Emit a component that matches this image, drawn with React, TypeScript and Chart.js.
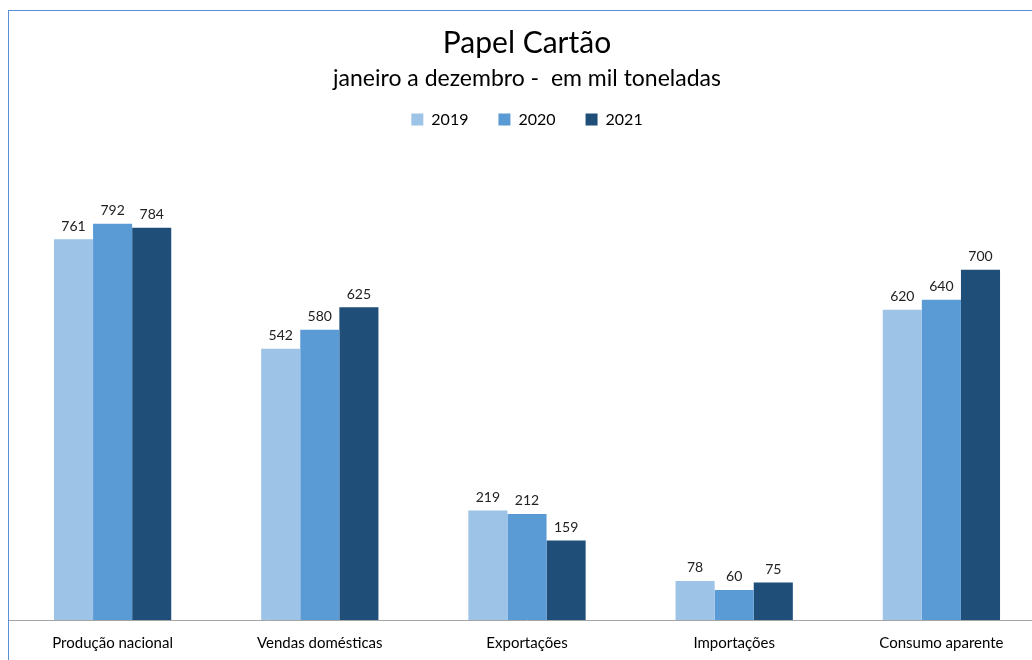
import React, { useEffect, useRef } from "react";
import { Chart, registerables } from "chart.js";

Chart.register(...registerables);

const categories = ["Produção nacional", "Vendas domésticas", "Exportações", "Importações", "Consumo aparente"];
const seriesNames = ["2019", "2020", "2021"];
const values2019 = [761, 542, 219, 78, 620];
const values2020 = [792, 580, 212, 60, 640];
const values2021 = [784, 625, 159, 75, 700];
const colors = ["#9DC3E6", "#5B9BD5", "#1F4E79"];

const FONT = "Lato, 'Open Sans', sans-serif";

const dataLabels = {
  id: "dataLabels",
  afterDatasetsDraw(chart: any) {
    const ctx = chart.ctx;
    ctx.save();
    ctx.font = `14px ${FONT}`;
    ctx.fillStyle = "#222222";
    ctx.textAlign = "center";
    ctx.textBaseline = "bottom";
    chart.data.datasets.forEach((ds: any, i: number) => {
      const meta = chart.getDatasetMeta(i);
      meta.data.forEach((el: any, j: number) => {
        ctx.fillText(String(ds.data[j]), el.x, el.y - 6);
      });
    });
    ctx.restore();
  },
};

const legendSpace = {
  id: "legendSpace",
  beforeInit(chart: any) {
    const legend = chart.legend;
    const origFit = legend.fit;
    legend.fit = function () {
      origFit.call(this);
      this.height += 21;
    };
    const origDraw = legend.draw;
    legend.draw = function () {
      const ctx = chart.ctx;
      ctx.save();
      ctx.translate(0, -11);
      origDraw.call(this);
      ctx.restore();
    };
  },
};

export default function App() {
  const ref = useRef<HTMLCanvasElement>(null);
  useEffect(() => {
    if (!ref.current) return;
    const chart = new Chart(ref.current, {
      type: "bar",
      data: {
        labels: categories,
        datasets: [values2019, values2020, values2021].map((d, i) => ({
          label: seriesNames[i],
          data: d,
          backgroundColor: colors[i],
          borderWidth: 0,
          barPercentage: 1,
          categoryPercentage: 0.566,
        })),
      },
      options: {
        animation: false,
        responsive: false,
        devicePixelRatio: 1,
        layout: { padding: { top: 14, bottom: 53, left: 0, right: 0 } },
        plugins: {
          title: {
            display: true,
            text: "Papel Cartão",
            color: "#000000",
            font: { family: FONT, size: 30, weight: "normal" },
            padding: { top: 0, bottom: 2 },
          },
          subtitle: {
            display: true,
            text: "janeiro a dezembro -  em mil toneladas",
            color: "#000000",
            font: { family: FONT, size: 23, weight: "normal" },
            padding: { top: 2, bottom: 0 },
          },
          legend: {
            display: true,
            position: "top",
            labels: {
              boxWidth: 12,
              boxHeight: 12,
              padding: 30,
              color: "#000000",
              font: { family: FONT, size: 16 },
            },
          },
          tooltip: { enabled: false },
        },
        scales: {
          x: {
            grid: { display: false },
            border: { display: true, color: "#A6A6A6", width: 1 },
            ticks: { color: "#000000", font: { family: FONT, size: 15 }, padding: 6 },
          },
          y: { display: false, min: 0, max: 900 },
        },
      },
      plugins: [dataLabels, legendSpace],
    });
    return () => chart.destroy();
  }, []);

  return (
    <div style={{ position: "fixed", left: 0, top: 0, width: 1032, height: 660, overflow: "hidden", background: "#fff" }}>
      <div
        style={{
          position: "absolute",
          left: 8,
          top: 10,
          width: 1036,
          height: 700,
          border: "1px solid #5B8FD6",
        }}
      >
        <canvas ref={ref} width={1036} height={700} style={{ display: "block", width: 1036, height: 700 }} />
      </div>
    </div>
  );
}
